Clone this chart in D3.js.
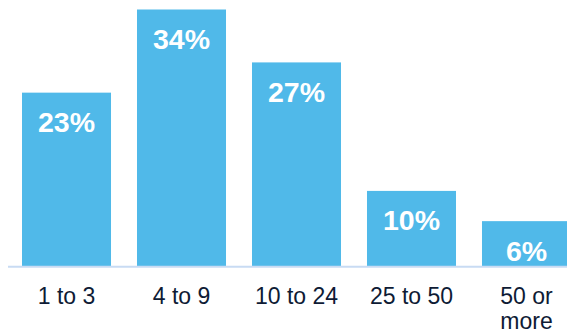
<!DOCTYPE html>
<html lang="en">
<head>
<meta charset="utf-8">
<title>bars</title>
<script src="https://d3js.org/d3.v7.min.js"></script>
<style>
  body { margin: 0; background: #fff; overflow: hidden; }
  svg { display: block; font-family: Arial, "Liberation Sans", sans-serif; }
</style>
</head>
<body>
<svg id="chart" width="567" height="333"></svg>
<script>
// chart data
const categories = ["1 to 3", "4 to 9", "10 to 24", "25 to 50", "50 or\nmore"];
const values = [23, 34, 27, 10, 6];
const valueLabels = ["23%", "34%", "27%", "10%", "6%"];

const w = 567, h = 333;
const svg = d3.select("#chart");

let x = d3.scaleBand()
    .domain(categories)
    .range([22, 571])
    .paddingInner(0.226)
    .paddingOuter(0);

let y = d3.scaleLinear()
    .domain([0, 34])
    .range([266.5, 9.5]);

// bars
svg.append("g")
    .selectAll("rect")
    .data(values)
    .join("rect")
    .attr("x", (d, i) => x(categories[i]))
    .attr("y", d => y(d))
    .attr("width", x.bandwidth())
    .attr("height", d => y(0) - y(d))
    .attr("fill", "#50b9e9");

// baseline
svg.append("line")
    .attr("x1", 8).attr("x2", w)
    .attr("y1", 266.7).attr("y2", 266.7)
    .attr("stroke", "#c8dbf3")
    .attr("stroke-width", 2);

// value labels inside bars
svg.append("g")
    .selectAll("text")
    .data(values)
    .join("text")
    .attr("x", (d, i) => x(categories[i]) + x.bandwidth() / 2)
    .attr("y", d => y(d) + 39.5)
    .attr("text-anchor", "middle")
    .attr("fill", "#fff")
    .attr("font-weight", "bold")
    .attr("font-size", 28.5)
    .text((d, i) => valueLabels[i]);

// category labels
const cat = svg.append("g")
    .selectAll("text")
    .data(categories)
    .join("text")
    .attr("x", d => x(d) + x.bandwidth() / 2)
    .attr("y", 304)
    .attr("text-anchor", "middle")
    .attr("fill", "#0e1b35")
    .attr("font-size", 23);

cat.each(function(d) {
  const lines = d.split("\n");
  d3.select(this).selectAll("tspan")
      .data(lines)
      .join("tspan")
      .attr("x", x(d) + x.bandwidth() / 2)
      .attr("dy", (l, i) => i === 0 ? 0 : 24.5)
      .text(l => l);
});
</script>
</body>
</html>
